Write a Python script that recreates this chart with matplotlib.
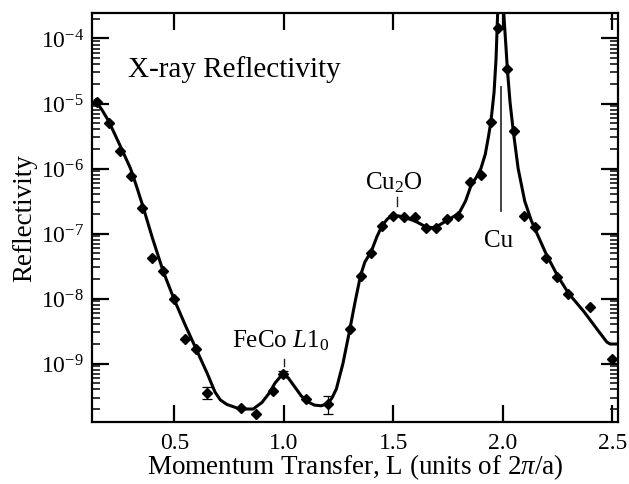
"""
X-ray reflectivity along L: measured points, fit curve and peak labels.
"""

import numpy as np
import matplotlib
matplotlib.use("Agg")
import matplotlib.pyplot as plt
from matplotlib.ticker import LogLocator, LogFormatterMathtext, NullLocator, NullFormatter

# measured points: L and log10(reflectivity)
DATA_L = [0.148, 0.203, 0.252, 0.301, 0.351, 0.398, 0.449, 0.500, 0.551, 0.600,
          0.651, 0.803, 0.875, 0.949, 0.998, 1.100, 1.203, 1.302, 1.351, 1.398,
          1.447, 1.500, 1.550, 1.599, 1.649, 1.697, 1.747, 1.797, 1.851, 1.899,
          1.946, 1.980, 2.021, 2.050, 2.097, 2.149, 2.197, 2.249, 2.299, 2.398,
          2.500]
DATA_LOGR = [-4.98, -5.30, -5.73, -6.12, -6.61, -7.37, -7.58, -8.01, -8.62, -8.77,
             -9.45, -9.68, -9.78, -9.43, -9.16, -9.55, -9.62, -8.47, -7.65, -7.30,
             -6.88, -6.735, -6.75, -6.75, -6.92, -6.92, -6.78, -6.73, -6.21, -6.10,
             -5.29, -3.84, -4.47, -5.43, -6.735, -6.895, -7.37, -7.67, -7.93, -8.13,
             -8.93]

# points with error bars (log10 lower / upper)
ERR_L = [0.651, 0.998, 1.203]
ERR_MID = [-9.45, -9.16, -9.62]
ERR_LO = [-9.54, -9.21, -9.78]
ERR_HI = [-9.36, -9.11, -9.50]

# fit curve
FIT_L = [0.14, 0.17, 0.20, 0.25, 0.30, 0.33, 0.36, 0.40, 0.45, 0.50,
         0.55, 0.60, 0.65, 0.686, 0.71, 0.74, 0.80, 0.86, 0.90, 0.93,
         0.96, 0.985, 1.00, 1.02, 1.05, 1.08, 1.11, 1.14, 1.17, 1.20,
         1.22, 1.24, 1.27, 1.30, 1.325, 1.35, 1.37, 1.40, 1.425, 1.45,
         1.475, 1.50, 1.525, 1.55, 1.60, 1.65, 1.68, 1.70, 1.75, 1.80,
         1.83, 1.855, 1.88, 1.90, 1.92, 1.935, 1.946, 1.96, 1.969, 1.975,
         1.98, 2.00, 2.006, 2.015, 2.021, 2.033, 2.048, 2.07, 2.10, 2.13,
         2.16, 2.20, 2.25, 2.30, 2.37, 2.43, 2.475, 2.49, 2.52]
FIT_LOGR = [-4.95, -5.10, -5.27, -5.63, -6.00, -6.30, -6.62, -7.07, -7.59, -8.02,
            -8.41, -8.78, -9.15, -9.44, -9.56, -9.63, -9.70, -9.70, -9.60, -9.47,
            -9.30, -9.20, -9.18, -9.22, -9.36, -9.50, -9.59, -9.64, -9.65, -9.62,
            -9.53, -9.39, -9.00, -8.50, -8.06, -7.65, -7.44, -7.27, -7.05, -6.87,
            -6.77, -6.73, -6.73, -6.75, -6.81, -6.90, -6.91, -6.89, -6.79, -6.69,
            -6.50, -6.26, -6.13, -6.00, -5.78, -5.50, -5.27, -4.83, -4.32, -3.75,
            -3.30, -3.30, -3.70, -4.16, -4.48, -4.98, -5.43, -6.00, -6.50, -6.80,
            -7.03, -7.33, -7.65, -7.92, -8.20, -8.47, -8.67, -8.70, -8.70]

XTICKS = [0.5, 1.0, 1.5, 2.0, 2.5]
XTICKLABELS = ["0.5", "1.0", "1.5", "2.0", "2.5"]

# peak marker lines: (L, log10 bottom, log10 top)
FECO_MARK = (1.0, -9.04, -8.93)
CU2O_MARK = (1.518, -6.58, -6.44)
CU_MARK = (1.99, -6.66, -4.75)

plt.rcParams["font.family"] = ["Liberation Serif", "DejaVu Serif"]
plt.rcParams["mathtext.fontset"] = "custom"
plt.rcParams["mathtext.rm"] = "Liberation Serif"
plt.rcParams["mathtext.it"] = "Liberation Serif:italic"


def main():
    fig = plt.figure(figsize=(6.29, 4.85), dpi=100)
    ax = fig.add_axes([0.1463, 0.1278, 0.8362, 0.8433])

    fit_r = 10.0 ** np.array(FIT_LOGR)
    ax.plot(FIT_L, fit_r, color="black", lw=2.2, zorder=3,
            solid_joinstyle="round")

    data_r = 10.0 ** np.array(DATA_LOGR)
    ax.plot(DATA_L, data_r, ls="none", marker="D", ms=5, color="black", zorder=4)

    mid = 10.0 ** np.array(ERR_MID)
    lo = 10.0 ** np.array(ERR_LO)
    hi = 10.0 ** np.array(ERR_HI)
    ax.errorbar(ERR_L, mid, yerr=[mid - lo, hi - mid], fmt="none",
                ecolor="black", elinewidth=0.9, capsize=3.5, capthick=0.9, zorder=4)

    # peak markers
    for (xm, y0, y1), lw in [(FECO_MARK, 1.0), (CU2O_MARK, 1.0), (CU_MARK, 1.2)]:
        ax.plot([xm, xm], [10 ** y0, 10 ** y1], color="#222222", lw=lw, zorder=2)

    ax.text(0.289, 10 ** -4.572, "X-ray Reflectivity", fontsize=21,
            ha="left", va="baseline")
    ax.text(1.503, 10 ** -6.30, r"Cu$_2$O", fontsize=18, ha="center", va="baseline")
    ax.text(1.982, 10 ** -7.19, "Cu", fontsize=18, ha="center", va="baseline")
    ax.text(0.762, 10 ** -8.735, r"FeCo $\mathit{L1_0}$", fontsize=18,
            ha="left", va="baseline")

    ax.set_yscale("log")
    ax.set_xlim(0.1242, 2.526)
    ax.set_ylim(10 ** -9.9, 10 ** -3.608)

    ax.set_xticks(XTICKS)
    ax.set_xticklabels(XTICKLABELS)
    ax.xaxis.set_minor_locator(NullLocator())
    ax.yaxis.set_major_locator(LogLocator(base=10, numticks=20))
    ax.yaxis.set_major_formatter(LogFormatterMathtext())
    ax.yaxis.set_minor_locator(LogLocator(base=10, subs=np.arange(2, 10), numticks=40))
    ax.yaxis.set_minor_formatter(NullFormatter())

    ax.tick_params(which="both", direction="in", top=True, right=True, color="black")
    ax.tick_params(which="major", length=12, width=1.6, labelsize=17)
    ax.tick_params(which="minor", length=6, width=1.1)
    ax.tick_params(axis="y", which="major", pad=6)
    ax.tick_params(axis="x", which="major", pad=7)
    for sp in ax.spines.values():
        sp.set_linewidth(1.6)

    ax.set_xlabel(r"Momentum Transfer, L (units of 2$\pi$/a)", fontsize=19.5, labelpad=-1)
    ax.set_ylabel("Reflectivity", fontsize=19.5, labelpad=2)

    fig.savefig("out.png", dpi=100)
    plt.close(fig)


if __name__ == "__main__":
    main()
